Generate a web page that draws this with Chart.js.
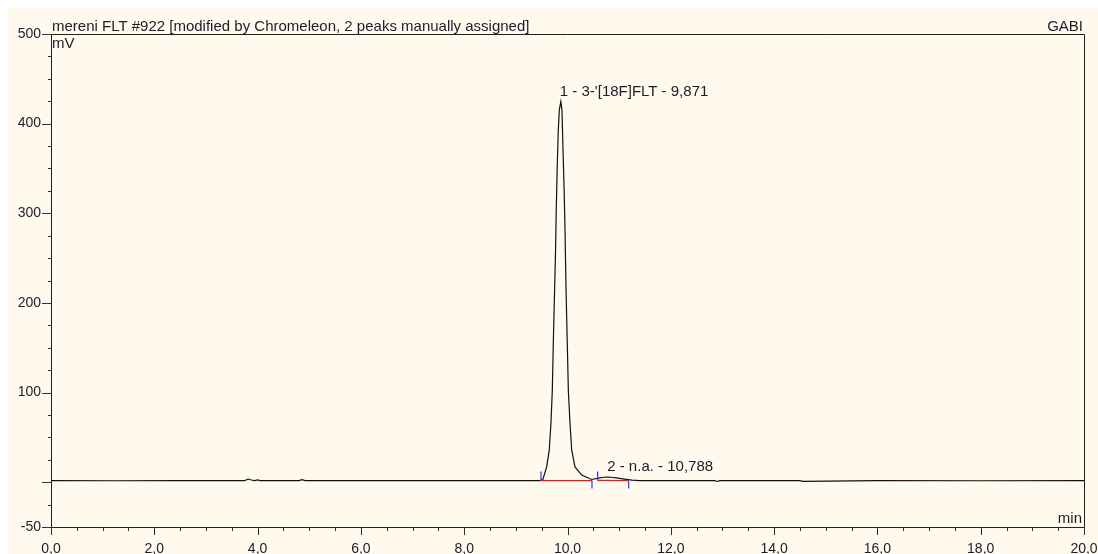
<!DOCTYPE html>
<html>
<head>
<meta charset="utf-8">
<script src="https://cdn.jsdelivr.net/npm/chart.js@4.4.1/dist/chart.umd.min.js"></script>
<style>
	html, body { margin: 0; padding: 0; background: #ffffff; }
	#wrap { width: 1098px; height: 554px; }
</style>
</head>
<body>
<div id="wrap"><canvas id="myChart" width="1098" height="554"></canvas></div>
<script>
// chromatogram trace (min, mV)
const times = [0, 1.2, 2.5, 3.75, 3.82, 3.88, 3.94, 4.0, 4.05, 4.8, 4.86, 4.92, 7.0, 9.45,
	9.52, 9.597, 9.647, 9.68, 9.706, 9.725, 9.75, 9.768, 9.783, 9.803, 9.822, 9.841, 9.871,
	9.893, 9.913, 9.935, 9.952, 9.972, 9.996, 10.016, 10.048, 10.081, 10.145, 10.275, 10.469,
	10.6, 10.7, 10.788, 10.95, 11.1, 11.25, 11.4, 12.85, 12.9, 12.95, 14.5, 14.55, 16.0, 18.0, 20.0];
const signal = [1.8, 1.6, 1.8, 1.8, 3.5, 2.4, 1.8, 2.6, 1.8, 1.8, 2.8, 1.8, 1.8, 1.8,
	2.5, 17, 36, 66, 103, 155, 214, 256, 307, 356, 393, 415, 424.5,
	415, 371, 326, 281, 214, 155, 103, 66, 36, 17, 8, 3,
	4.5, 5.5, 5.8, 4.8, 3.5, 2.2, 1.8, 1.8, 0.8, 1.8, 1.8, 1.0, 1.8, 1.6, 1.8];

// integration baselines and delimiters
const baseStart = [9.487, 10.584];
const baseEnd = [10.474, 11.184];
const baseStartVal = [1.8, 2.0];
const baseEndVal = [1.8, 1.8];
const delimTimes = [9.487, 10.474, 10.584, 11.184];
const delimFrom = [2, 2, 2, 2];
const delimTo = [12, -7, 12, -7];

// peak labels
const peakNames = ["1 - 3-'[18F]FLT - 9,871", "2 - n.a. - 10,788"];
const peakTimes = [9.871, 10.788];
const peakHeights = [424.5, 5.8];

// axes
const xTickValues = [0, 2, 4, 6, 8, 10, 12, 14, 16, 18, 20];
const xTickLabels = ["0,0", "2,0", "4,0", "6,0", "8,0", "10,0", "12,0", "14,0", "16,0", "18,0", "20,0"];
const yTickValues = [-50, 100, 200, 300, 400, 500];
const yTickLabels = ["-50", "100", "200", "300", "400", "500"];

const titleText = "mereni FLT #922 [modified by Chromeleon, 2 peaks manually assigned]";
const userText = "GABI";

const FONT = "15px 'Liberation Sans', Arial, sans-serif";
const TXT = "#1c1c2c";

let datasets = [];

for (let i = 0; i < baseStart.length; i++) {
	datasets.push({
		data: [{ x: baseStart[i], y: baseStartVal[i] }, { x: baseEnd[i], y: baseEndVal[i] }],
		borderColor: "#ff1010",
		borderWidth: 1.2
	});
}

for (let i = 0; i < delimTimes.length; i++) {
	datasets.push({
		data: [{ x: delimTimes[i], y: delimFrom[i] }, { x: delimTimes[i], y: delimTo[i] }],
		borderColor: "#3030ff",
		borderWidth: 1.2
	});
}

let trace = [];
for (let i = 0; i < times.length; i++) {
	trace.push({ x: times[i], y: signal[i] });
}
datasets.push({
	data: trace,
	borderColor: "#111111",
	borderWidth: 1.2
});

const decor = {
	id: "decor",
	beforeDraw(chart) {
		const ctx = chart.ctx;
		ctx.save();
		ctx.fillStyle = "#ffffff";
		ctx.fillRect(0, 0, chart.width, chart.height);
		ctx.fillStyle = "#fff9ee";
		ctx.fillRect(8, 8, chart.width - 8, chart.height - 8);
		ctx.restore();
	},
	afterDraw(chart) {
		const ctx = chart.ctx;
		const a = chart.chartArea;
		const xs = chart.scales.x;
		const ys = chart.scales.y;
		ctx.save();

		// box top and right
		ctx.strokeStyle = "#222";
		ctx.lineWidth = 1;
		ctx.beginPath();
		ctx.moveTo(a.left, a.top + 0.5);
		ctx.lineTo(a.right + 0.5, a.top + 0.5);
		ctx.lineTo(a.right + 0.5, a.bottom);
		ctx.stroke();

		// y ticks
		ctx.strokeStyle = "#333";
		ctx.beginPath();
		for (let v = -50; v <= 500; v += 25) {
			let y = Math.round(ys.getPixelForValue(v)) + 0.5;
			let len = (v % 100 === 0 || v === -50) ? 9 : 3;
			ctx.moveTo(a.left - len, y);
			ctx.lineTo(a.left, y);
		}
		// x ticks
		for (let t = 0; t <= 20.001; t += 0.5) {
			let x = Math.round(xs.getPixelForValue(t)) + 0.5;
			let len = (Math.abs(t / 2 - Math.round(t / 2)) < 0.001) ? 8 : 4;
			ctx.moveTo(x, a.bottom);
			ctx.lineTo(x, a.bottom + len);
		}
		ctx.stroke();

		// texts
		ctx.fillStyle = TXT;
		ctx.font = FONT;
		ctx.textBaseline = "alphabetic";
		ctx.textAlign = "left";
		ctx.fillText(titleText, a.left + 1, 31);
		ctx.fillText("mV", a.left + 1, a.top + 14);
		ctx.textAlign = "right";
		ctx.fillText(userText, a.right - 1, 31);
		ctx.fillText("min", a.right - 2, a.bottom - 4);

		ctx.textAlign = "left";
		for (let i = 0; i < peakNames.length; i++) {
			let px = xs.getPixelForValue(peakTimes[i]);
			let py = ys.getPixelForValue(peakHeights[i]);
			ctx.fillText(peakNames[i], px - 1, py - 6);
		}
		ctx.restore();
	}
};

const ctx = document.getElementById("myChart");

new Chart(ctx, {
	type: "line",
	data: { datasets: datasets },
	options: {
		responsive: false,
		animation: false,
		events: [],
		layout: { padding: { left: 0, top: 34, right: 14, bottom: 0 } },
		elements: {
			point: { radius: 0 },
			line: { tension: 0 }
		},
		plugins: {
			legend: { display: false },
			tooltip: { enabled: false }
		},
		scales: {
			x: {
				type: "linear",
				min: 0,
				max: 20,
				afterBuildTicks: function(scale) {
					scale.ticks = xTickValues.map(function(v) { return { value: v }; });
				},
				afterFit: function(scale) {
					scale.height = 27;
					scale.paddingLeft = 0;
					scale.paddingRight = 0;
				},
				grid: { display: false },
				border: { display: true, color: "#222", width: 1 },
				ticks: {
					autoSkip: false,
					maxRotation: 0,
					padding: 6,
					color: TXT,
					font: { family: "'Liberation Sans', Arial, sans-serif", size: 14 },
					callback: function(v) {
						let k = xTickValues.indexOf(v);
						return k >= 0 ? xTickLabels[k] : "";
					}
				}
			},
			y: {
				type: "linear",
				min: -50,
				max: 500,
				afterBuildTicks: function(scale) {
					scale.ticks = yTickValues.map(function(v) { return { value: v }; });
				},
				afterFit: function(scale) {
					scale.width = 51;
					scale.paddingTop = 0;
					scale.paddingBottom = 0;
				},
				grid: { display: false },
				border: { display: true, color: "#222", width: 1 },
				ticks: {
					autoSkip: false,
					padding: 2,
					color: TXT,
					font: { family: "'Liberation Sans', Arial, sans-serif", size: 14 },
					callback: function(v) {
						let k = yTickValues.indexOf(v);
						return k >= 0 ? yTickLabels[k] : "";
					}
				}
			}
		}
	},
	plugins: [decor]
});
</script>
</body>
</html>
